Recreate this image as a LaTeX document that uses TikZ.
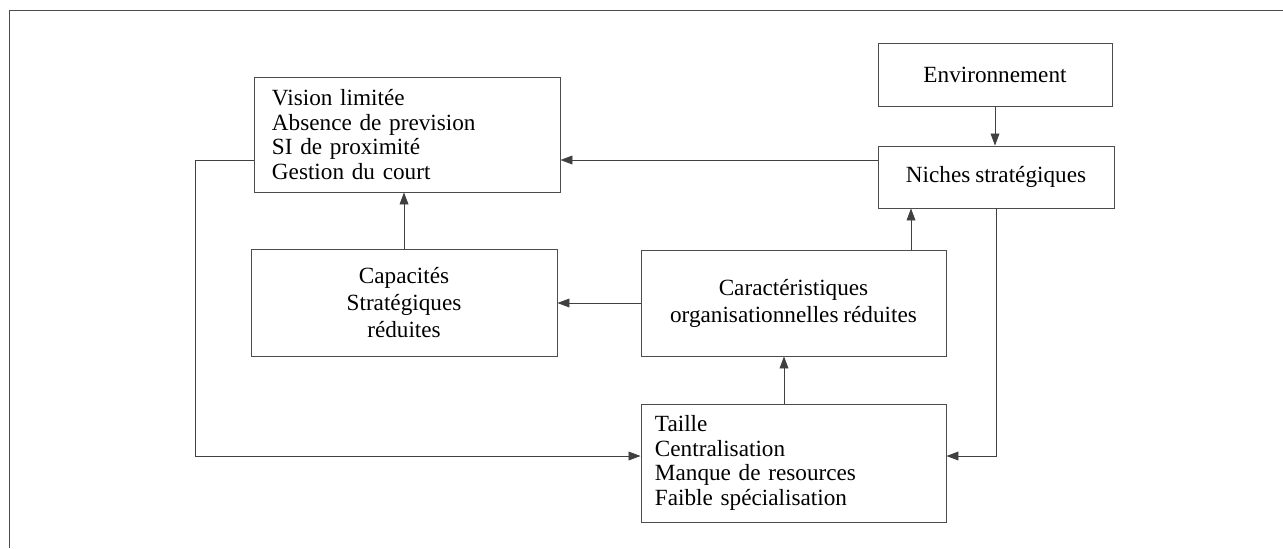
\documentclass[tikz,border=0pt]{standalone}
\usepackage{fontspec}
\setmainfont[WordSpace=0.85]{Liberation Serif}
\usepackage{tikz}
\usetikzlibrary{arrows.meta}

\begin{document}
\begin{tikzpicture}[x=0.025cm, y=-0.025cm, line width=0.6pt,
        boite/.style={draw=black!70, inner sep=0pt, font=\fontsize{16.5}{19.2}\selectfont},
        liste/.style={boite, align=left, inner xsep=0.45cm},
        centre/.style={boite, align=center},
        fleche/.style={draw=black!75, -{Triangle[length=0.3cm, width=0.22cm]}}]
        \useasboundingbox (0, 0) rectangle (1283, 548);
        \draw[black!70] (9, 548) -- (9, 10) -- (1283, 10);

        \node[liste, text width=6.75cm, minimum height=2.875cm, font=\fontsize{16.5}{17.4}\selectfont] (vision) at (407, 134.5)
            {Vision limitée\\Absence de prevision\\SI de proximité\\Gestion du court};
        \node[centre, minimum width=5.85cm, minimum height=1.575cm] (env) at (995, 74.5) {Environnement};
        \node[centre, minimum width=5.9cm, minimum height=1.55cm] (niches) at (996, 177) {Niches stratégiques};
        \node[centre, minimum width=7.65cm, minimum height=2.675cm] (capac) at (404, 302.5)
            {Capacités\\Stratégiques\\réduites};
        \node[centre, minimum width=7.625cm, minimum height=2.65cm] (caract) at (793.5, 303)
            {Caractéristiques\\organisationnelles réduites};
        \node[liste, inner xsep=0.35cm, text width=6.925cm, minimum height=2.95cm, font=\fontsize{16.5}{17.4}\selectfont] (taille) at (793.5, 463)
            {Taille\\Centralisation\\Manque de resources\\Faible spécialisation\\[4pt]};

        % points de passage
        \coordinate (haut) at (0, 160);
        \coordinate (bas) at (195, 456);
        \coordinate (droite) at (911, 0);
        \coordinate (milieu) at (784, 0);

        \draw[fleche] (env.south) -- (env.south |- niches.north);
        \draw[fleche] (niches.west |- haut) -- (vision.east |- haut);
        \draw[fleche] (vision.west |- haut) -| (bas) -- (taille.west |- bas);
        \draw[fleche] (capac.north) -- (capac.north |- vision.south);
        \draw[fleche] (caract.west) -- (capac.east |- caract.west);
        \draw[fleche] (caract.north -| droite) -- (niches.south -| droite);
        \draw[fleche] (taille.north -| milieu) -- (caract.south -| milieu);
        \draw[fleche] (niches.south) |- (taille.east |- bas);
    \end{tikzpicture}
\end{document}
